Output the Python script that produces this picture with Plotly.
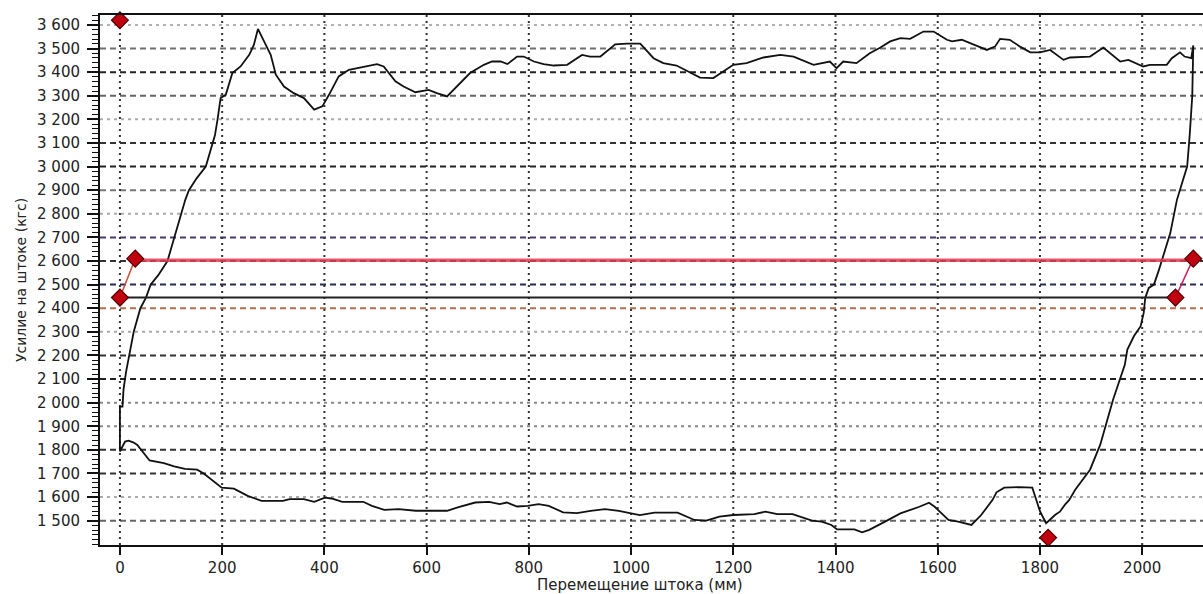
import plotly.graph_objects as go

# ---- data ----
up_x = [0, 0, 5, 7, 12, 18, 27, 40, 51, 60, 75, 93, 106, 119, 128, 135, 150, 168, 181, 186, 191,
        197, 207, 220, 236, 253, 262, 270, 282, 295, 305, 321, 340, 360, 380, 396, 409, 428, 448,
        464, 484, 503, 516, 539, 555, 578, 604, 620, 640, 663, 685, 712, 728, 745, 758, 777, 790,
        810, 829, 849, 875, 904, 920, 940, 969, 992, 1018, 1044, 1063, 1089, 1112, 1135, 1161,
        1181, 1194, 1200, 1226, 1259, 1292, 1318, 1357, 1376, 1389, 1402, 1415, 1441, 1467, 1488,
        1507, 1527, 1546, 1572, 1592, 1618, 1628, 1647, 1670, 1696, 1712, 1722, 1741, 1761, 1781,
        1800, 1820, 1846, 1859, 1898, 1924, 1944, 1957, 1973, 2002, 2015, 2048, 2058, 2074, 2083,
        2096, 2100]
up_y = [1793, 1983, 1983, 2055, 2130, 2200, 2300, 2400, 2445, 2500, 2540, 2600, 2700, 2800, 2860,
        2900, 2950, 3000, 3100, 3134, 3200, 3290, 3304, 3396, 3424, 3473, 3515, 3583, 3530, 3473,
        3389, 3339, 3311, 3290, 3241, 3255, 3304, 3382, 3410, 3417, 3428, 3434, 3424, 3361, 3339,
        3315, 3325, 3311, 3297, 3346, 3396, 3431, 3445, 3445, 3434, 3466, 3466, 3445, 3434, 3428,
        3431, 3473, 3466, 3466, 3518, 3521, 3521, 3459, 3438, 3428, 3403, 3377, 3375, 3403, 3420,
        3431, 3438, 3462, 3473, 3466, 3431, 3438, 3445, 3417, 3445, 3438, 3480, 3504, 3530, 3544,
        3541, 3572, 3572, 3537, 3530, 3537, 3518, 3494, 3508, 3541, 3537, 3508, 3484, 3484, 3494,
        3452, 3462, 3466, 3504, 3466, 3445, 3452, 3424, 3431, 3431, 3459, 3484, 3466, 3459, 3513]

down_x = [2098, 2093, 2088, 2080, 2068, 2055, 2045, 2039, 2032, 2023, 2013, 2006, 2003, 1997, 1984,
          1971, 1966, 1943, 1932, 1918, 1898, 1869, 1857, 1849, 1839, 1830, 1812, 1800, 1791, 1785,
          1760, 1730, 1715, 1707, 1685, 1666, 1640, 1621, 1594, 1583, 1564, 1527, 1497, 1466, 1452,
          1437, 1403, 1392, 1373, 1354, 1316, 1286, 1263, 1241, 1200, 1173, 1147, 1124, 1091, 1046,
          1017, 997, 976, 949, 921, 894, 867, 839, 819, 798, 777, 757, 743, 722, 695, 661, 640, 606,
          579, 545, 517, 493, 476, 435, 414, 401, 380, 360, 332, 319, 277, 250, 223, 199, 182, 164,
          151, 127, 106, 86, 58, 45, 34, 27, 17, 10, 0]
down_y = [3300, 3134, 3000, 2944, 2859, 2718, 2648, 2599, 2557, 2500, 2486, 2444, 2380, 2324, 2282,
          2225, 2160, 2012, 1928, 1822, 1716, 1631, 1587, 1568, 1538, 1525, 1489, 1540, 1600, 1640,
          1642, 1640, 1620, 1587, 1524, 1482, 1496, 1503, 1559, 1576, 1559, 1531, 1496, 1461, 1451,
          1463, 1463, 1482, 1496, 1500, 1528, 1528, 1538, 1528, 1524, 1517, 1500, 1503, 1534, 1534,
          1524, 1532, 1542, 1549, 1542, 1532, 1535, 1563, 1570, 1563, 1560, 1577, 1570, 1580, 1577,
          1556, 1542, 1542, 1542, 1549, 1546, 1563, 1580, 1580, 1594, 1598, 1580, 1591, 1591, 1584,
          1584, 1605, 1636, 1640, 1668, 1700, 1716, 1719, 1730, 1744, 1755, 1793, 1821, 1831, 1839,
          1835, 1793]

red_level_x = [30, 2100]
red_level_y = [2603, 2603]
black_level_x = [0, 2065]
black_level_y = [2445, 2445]
left_link_x = [0, 30]
left_link_y = [2445, 2610]
right_link_x = [2065, 2100]
right_link_y = [2445, 2610]
marker_x = [0, 0, 30, 2065, 2100, 1816]
marker_y = [3620, 2445, 2610, 2445, 2610, 1428]

x_ticks = [0, 200, 400, 600, 800, 1000, 1200, 1400, 1600, 1800, 2000]
x_tick_text = ["0", "200", "400", "600", "800", "1000", "1200", "1400", "1600", "1800", "2000"]
y_ticks = [1500, 1600, 1700, 1800, 1900, 2000, 2100, 2200, 2300, 2400, 2500, 2600, 2700, 2800,
           2900, 3000, 3100, 3200, 3300, 3400, 3500, 3600]
y_tick_text = ["1 500", "1 600", "1 700", "1 800", "1 900", "2 000", "2 100", "2 200", "2 300",
               "2 400", "2 500", "2 600", "2 700", "2 800", "2 900", "3 000", "3 100", "3 200",
               "3 300", "3 400", "3 500", "3 600"]

# styles for the horizontal grid lines (one per y tick, same order)
hgrid_colors = ["#666666", "#aaaaaa", "#333333", "#333333", "#888888", "#888888", "#222222",
                "#333333", "#aaaaaa", "#b07050", "#2a2a50", "#333333", "#4a3a6a", "#aaaaaa",
                "#777777", "#222222", "#333333", "#aaaaaa", "#666666", "#222222", "#707070",
                "#b0b0b0"]

fig = go.Figure()

shapes = []
for v, c in zip(y_ticks, hgrid_colors):
    light = c in ("#aaaaaa", "#b0b0b0", "#888888")
    shapes.append(dict(type="line", xref="paper", yref="y", x0=0, x1=1, y0=v, y1=v,
                       line=dict(color=c, width=2, dash="3px,4px" if light else "6px,4px"),
                       layer="below"))
for v in x_ticks:
    shapes.append(dict(type="line", xref="x", yref="paper", x0=v, x1=v, y0=0, y1=1,
                       line=dict(color="#333333", width=2, dash="2px,4px"), layer="below"))

fig.add_trace(go.Scatter(x=up_x + down_x, y=up_y + down_y, mode="lines",
                         line=dict(color="#111111", width=1.8), hoverinfo="skip"))
fig.add_trace(go.Scatter(x=red_level_x, y=red_level_y, mode="lines",
                         line=dict(color="rgba(225,60,80,0.85)", width=3.5), hoverinfo="skip"))
fig.add_trace(go.Scatter(x=black_level_x, y=black_level_y, mode="lines",
                         line=dict(color="#222222", width=2), hoverinfo="skip"))
fig.add_trace(go.Scatter(x=left_link_x, y=left_link_y, mode="lines",
                         line=dict(color="#c8503c", width=1.5), hoverinfo="skip"))
fig.add_trace(go.Scatter(x=right_link_x, y=right_link_y, mode="lines",
                         line=dict(color="#d02060", width=1.5), hoverinfo="skip"))
fig.add_trace(go.Scatter(x=marker_x, y=marker_y, mode="markers",
                         marker=dict(symbol="diamond", size=13, color="#c00010",
                                     line=dict(color="#500000", width=1.2)),
                         hoverinfo="skip", cliponaxis=False))

fig.update_layout(
    width=1203, height=594,
    margin=dict(l=100, r=0, t=15, b=49),
    paper_bgcolor="white", plot_bgcolor="white",
    showlegend=False,
    shapes=shapes,
    font=dict(family="DejaVu Sans", color="#222222"),
    annotations=[
        dict(text="Перемещение штока (мм)", xref="paper", yref="paper",
             x=(640 - 100) / 1103, y=-40 / 530, xanchor="center", yanchor="middle",
             showarrow=False, font=dict(size=15, family="DejaVu Sans", color="#222222")),
        dict(text="Усилие на штоке (кгс)", xref="paper", yref="paper",
             x=(21 - 100) / 1103, y=0.5, xanchor="center", yanchor="middle", textangle=-90,
             showarrow=False, font=dict(size=14, family="DejaVu Sans", color="#222222")),
    ],
)
fig.update_xaxes(range=[-39, 2119], tickmode="array", tickvals=x_ticks, ticktext=x_tick_text,
                 ticks="outside", ticklen=8, tickwidth=2, tickcolor="#111111",
                 showline=True, linewidth=2, linecolor="#111111", mirror=True,
                 showgrid=False, zeroline=False, tickfont=dict(size=15, family="DejaVu Sans"))
fig.update_yaxes(range=[1397, 3642], tickmode="array", tickvals=y_ticks, ticktext=y_tick_text,
                 ticks="outside", ticklen=11, tickwidth=2, tickcolor="#111111",
                 minor=dict(tickmode="linear", tick0=1400, dtick=20, ticks="outside", ticklen=6,
                            tickwidth=1, tickcolor="#111111", showgrid=False),
                 showline=True, linewidth=2, linecolor="#111111",
                 showgrid=False, zeroline=False, ticklabelstandoff=4,
                 tickfont=dict(size=15, family="DejaVu Sans"))

fig.write_html("out.html")
